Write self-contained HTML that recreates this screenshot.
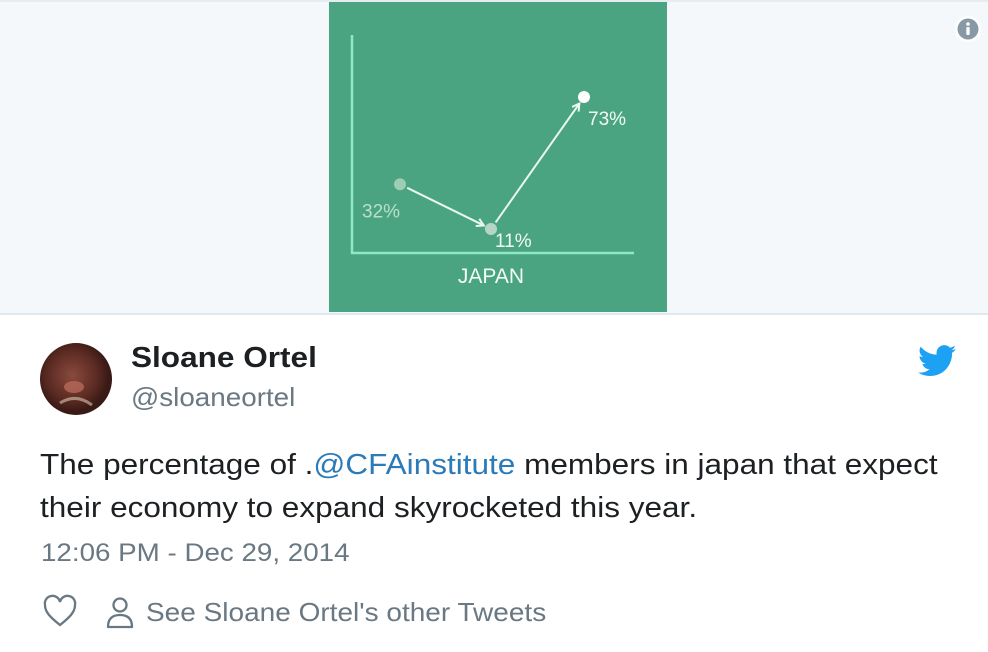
<!DOCTYPE html>
<html><head><meta charset="utf-8"><style>
body{margin:0;width:988px;height:652px;background:#fff;font-family:"Liberation Sans",Arial,sans-serif;position:relative;overflow:hidden}
.abs{position:absolute;white-space:nowrap;transform-origin:0 0}
</style></head><body>
<div class="abs" style="left:0;top:0;width:988px;height:311px;background:#f5f8fa;border-top:2px solid #e6ecf0;border-bottom:2px solid #e1e8ed"></div>
<svg class="abs" style="left:329px;top:2px" width="338" height="310" viewBox="329 2 338 310">
<rect x="329" y="2" width="338" height="310" fill="#4ba481"/>
<g id="marks"></g>
</svg>
<svg class="abs" style="left:955px;top:16px" width="26" height="26">
<circle cx="13" cy="13" r="13" fill="#fff"/><circle cx="13" cy="13" r="10.5" fill="#8899a6"/>
<circle cx="13" cy="8" r="1.8" fill="#fff"/><rect x="11.3" y="11" width="3.4" height="8" rx="1" fill="#fff"/>
</svg>
<svg class="abs" style="left:40px;top:343px" width="72" height="72">
<defs><radialGradient id="g" cx="45%" cy="45%"><stop offset="0" stop-color="#8a4a3e"/><stop offset="0.7" stop-color="#5a2a22"/><stop offset="1" stop-color="#3a1a16"/></radialGradient></defs>
<circle cx="36" cy="36" r="36" fill="url(#g)"/>
<ellipse cx="34" cy="44" rx="10" ry="6" fill="#c07060" opacity=".7"/>
<path d="M20 60 Q36 50 52 62" stroke="#d8c8b0" stroke-width="3" fill="none" opacity=".6"/>
</svg>
<div class="abs" style="left:131px;top:342px;font-size:29px;transform:scaleX(1.088);font-weight:bold;color:#1c2022">Sloane Ortel</div>
<div class="abs" style="left:131px;top:382px;font-size:26px;transform:scaleX(1.07);color:#697882">@sloaneortel</div>
<svg class="abs" style="left:918px;top:345px" width="38" height="32" viewBox="0 0 24 20">
<path fill="#1da1f2" d="M24 2.4a9.8 9.8 0 0 1-2.8.8A4.9 4.9 0 0 0 23.3.4a9.9 9.9 0 0 1-3.1 1.2A4.9 4.9 0 0 0 11.8 6 14 14 0 0 1 1.7.9a4.9 4.9 0 0 0 1.5 6.6A4.9 4.9 0 0 1 1 6.9a4.9 4.9 0 0 0 3.9 4.8 4.9 4.9 0 0 1-2.2.1 4.9 4.9 0 0 0 4.6 3.4A9.9 9.9 0 0 1 0 17.3 14 14 0 0 0 7.5 19.5c9.1 0 14-7.5 14-14v-.6A10 10 0 0 0 24 2.4z"/>
</svg>
<div class="abs" style="left:40px;top:444px;font-size:29px;transform:scaleX(1.087);line-height:43px;color:#1c2022">The percentage of .<span style="color:#2b7bb9">@CFAinstitute</span> members in japan that expect<br>their economy to expand skyrocketed this year.</div>
<div class="abs" style="left:41px;top:539px;font-size:25px;transform:scaleX(1.11);color:#697882">12:06 PM - Dec 29, 2014</div>
<svg class="abs" style="left:42px;top:594px" width="36" height="36" viewBox="0 0 36 36">
<path d="M18 31 C8 23 3 18 3 11 A7.5 7.5 0 0 1 18 8 A7.5 7.5 0 0 1 33 11 C33 18 28 23 18 31 Z" fill="none" stroke="#697882" stroke-width="2.3"/>
</svg>
<svg class="abs" style="left:104px;top:594px" width="32" height="36" viewBox="0 0 32 36">
<circle cx="16" cy="11" r="6.5" fill="none" stroke="#697882" stroke-width="2.3"/>
<path d="M4 33 Q4 21 16 21 Q28 21 28 33 Z" fill="none" stroke="#697882" stroke-width="2.3" stroke-linejoin="round"/>
</svg>
<div class="abs" style="left:146px;top:597px;font-size:26px;transform:scaleX(1.077);color:#697882">See Sloane Ortel's other Tweets</div>
<script>
const categories=["start","middle","end"];
const values=[32,11,73];
const labels=["32%","11%","73%"];
const NS="http://www.w3.org/2000/svg";
const g=document.getElementById('marks');
const x=i=>[400,491,584][i];
const y=v=>252.4-2.129*v;
function mk(t,a){const e=document.createElementNS(NS,t);for(const k in a)e.setAttribute(k,a[k]);g.appendChild(e);return e;}
let ax=mk('path',{d:'M352 35 V253 H634',stroke:'#8ee8c8','stroke-width':2.5,fill:'none'});


for(let i=0;i<values.length-1;i++){
 const x1=x(i),y1=y(values[i]),x2=x(i+1),y2=y(values[i+1]);
 const dx=x2-x1,dy=y2-y1,L=Math.hypot(dx,dy),ux=dx/L,uy=dy/L;
 const sx=x1+ux*8,sy=y1+uy*8,ex=x2-ux*8,ey=y2-uy*8;
 const ln=mk('line',{x1:sx,y1:sy,x2:ex,y2:ey,stroke:'#e8f8f0','stroke-width':2});
 
 
 const px=-uy,py=ux;
 mk('path',{d:`M${ex-ux*7+px*4} ${ey-uy*7+py*4} L${ex} ${ey} L${ex-ux*7-px*4} ${ey-uy*7-py*4}`,stroke:'#e8f8f0','stroke-width':2,fill:'none'});
}
const fills=['#9ccdb5','#b5d6c6','#ffffff'];
const loff=[[-38,33],[4,18],[4,28]];
values.forEach((v,i)=>{
 const c=mk('circle',{cx:x(i),cy:y(v),r:6,fill:fills[i]});
 
 
 const t=mk('text',{x:x(i)+loff[i][0],y:y(v)+loff[i][1],fill:i==0?'#b8e0cc':'#f2fbf6','font-size':19,'font-family':'Liberation Sans, sans-serif'});
 t.textContent=labels[i];
 
 
});
const xt=mk('text',{x:491,y:283,fill:'#f2fbf6','font-size':21,'text-anchor':'middle','font-family':'Liberation Sans, sans-serif'});
xt.textContent='JAPAN';


</script>
</body></html>
